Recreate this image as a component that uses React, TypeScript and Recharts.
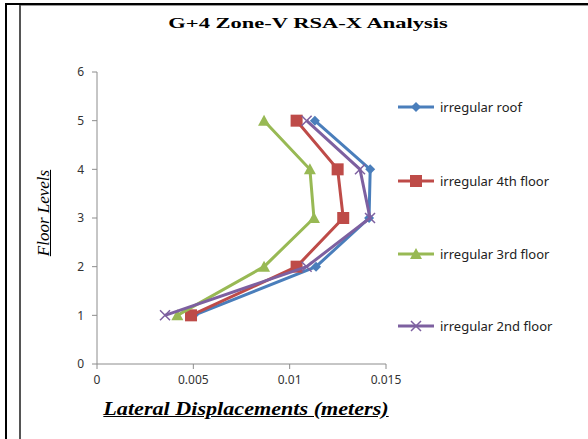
import React from "react";
import { Scatter, ScatterChart, XAxis, YAxis } from "recharts";

// floor levels (y) and lateral displacement in metres (x)
const floors = [1, 2, 3, 4, 5];
const roofDisp = [0.00502, 0.01137, 0.01412, 0.01418, 0.01131];
const fourthDisp = [0.00488, 0.01036, 0.01278, 0.01249, 0.01036];
const thirdDisp = [0.00417, 0.00867, 0.01126, 0.01105, 0.00867];
const secondDisp = [0.00353, 0.01088, 0.01417, 0.01365, 0.01088];

const xTicks = [0, 0.005, 0.01, 0.015];
const yTicks = [0, 1, 2, 3, 4, 5, 6];

const toPoints = (xs: number[]) => floors.map((f, i) => ({ x: xs[i], y: f }));

type MarkerKind = "diamond" | "square" | "triangle" | "cross";

const seriesList: { name: string; color: string; marker: MarkerKind; values: number[] }[] = [
  { name: "irregular roof", color: "#4a7ebb", marker: "diamond", values: roofDisp },
  { name: "irregular 4th floor", color: "#be4b48", marker: "square", values: fourthDisp },
  { name: "irregular 3rd floor", color: "#98b954", marker: "triangle", values: thirdDisp },
  { name: "irregular 2nd floor", color: "#7d60a0", marker: "cross", values: secondDisp },
];

function Marker({ kind, cx, cy, color }: { kind: MarkerKind; cx: number; cy: number; color: string }) {
  if (kind === "diamond") {
    return <path d={`M${cx},${cy - 5}L${cx + 5},${cy}L${cx},${cy + 5}L${cx - 5},${cy}Z`} fill={color} />;
  }
  if (kind === "square") {
    return <rect x={cx - 6} y={cy - 6} width={12} height={12} fill={color} />;
  }
  if (kind === "triangle") {
    return <path d={`M${cx},${cy - 6}L${cx + 6},${cy + 5}L${cx - 6},${cy + 5}Z`} fill={color} />;
  }
  return (
    <path d={`M${cx - 5},${cy - 5}L${cx + 5},${cy + 5}M${cx - 5},${cy + 5}L${cx + 5},${cy - 5}`} stroke={color} strokeWidth={1.5} fill="none" />
  );
}

const tickStyle = { fill: "#333", fontSize: 12, fontFamily: "'Noto Sans', sans-serif" };
const serif = "'Liberation Serif', 'Times New Roman', serif";

export default function App() {
  return (
    <div style={{ position: "fixed", left: 0, top: 0, width: 588, height: 439, background: "#fff", overflow: "hidden" }}>
      {/* frame lines from the source document */}
      <div style={{ position: "absolute", left: 5, top: 3, width: 583, height: 2, background: "#000" }} />
      <div style={{ position: "absolute", left: 5, top: 3, width: 2, height: 436, background: "#000" }} />
      <div style={{ position: "absolute", left: 19, top: 5, width: 2, height: 434, background: "#555" }} />
      <div style={{ position: "absolute", left: 21, top: 5, width: 567, height: 1, background: "#999" }} />

      {/* the source text is stretched horizontally, hence the scaleX */}
      <div style={{ position: "absolute", left: 0, width: 616, top: 15, textAlign: "center", fontFamily: serif, fontWeight: "bold", fontSize: 15, transform: "scaleX(1.5)" }}>
        G+4 Zone-V RSA-X Analysis
      </div>

      <ScatterChart width={588} height={439} margin={{ top: 72, right: 202, left: 57, bottom: 45 }} style={{ position: "absolute", left: 0, top: 0 }}>
        <XAxis
          type="number"
          dataKey="x"
          domain={[0, 0.015]}
          ticks={xTicks}
          height={30}
          tick={tickStyle}
          tickFormatter={(v: number) => String(v)}
          stroke="#8c8c8c"
          tickSize={5}
          tickMargin={6}
        />
        <YAxis
          type="number"
          dataKey="y"
          domain={[0, 6]}
          ticks={yTicks}
          width={40}
          tick={tickStyle}
          stroke="#8c8c8c"
          tickSize={5}
          tickMargin={8}
        />
        {seriesList.map((s) => (
          <Scatter
            key={s.name}
            name={s.name}
            data={toPoints(s.values)}
            line={{ stroke: s.color, strokeWidth: 3 }}
            lineType="joint"
            isAnimationActive={false}
            shape={(p: any) => <Marker kind={s.marker} cx={p.cx} cy={p.cy} color={s.color} />}
          />
        ))}
      </ScatterChart>

      {/* legend */}
      {seriesList.map((s, i) => (
        <div
          key={s.name}
          style={{ position: "absolute", left: 397, top: [98, 172, 245, 317][i], display: "flex", alignItems: "center", fontFamily: "'Noto Sans', sans-serif", fontSize: 13, color: "#222" }}
        >
          <svg width={38} height={14}>
            <line x1={1} y1={7} x2={37} y2={7} stroke={s.color} strokeWidth={3} />
            <Marker kind={s.marker} cx={19} cy={7} color={s.color} />
          </svg>
          <span style={{ marginLeft: 5 }}>{s.name}</span>
        </div>
      ))}

      <div style={{ position: "absolute", left: 0, top: 399, width: 492, textAlign: "center", fontFamily: serif, fontWeight: "bold", fontStyle: "italic", fontSize: 18, textDecoration: "underline", transform: "scaleX(1.23)" }}>
        Lateral Displacements (meters)
      </div>
      <div
        style={{ position: "absolute", left: 44, top: 213, transform: "translate(-50%, -50%) rotate(-90deg)", whiteSpace: "nowrap", fontFamily: serif, fontStyle: "italic", fontSize: 17, textDecoration: "underline" }}
      >
        Floor Levels
      </div>
    </div>
  );
}
